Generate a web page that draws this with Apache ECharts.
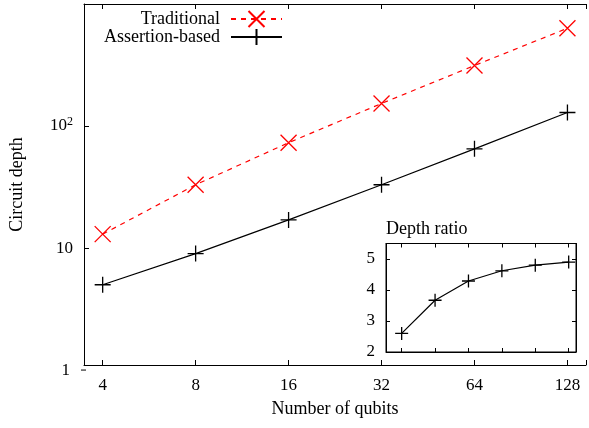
<!DOCTYPE html>
<html>
<head>
<meta charset="utf-8">
<title>Circuit depth</title>
<script src="https://cdn.jsdelivr.net/npm/echarts@6/dist/echarts.min.js"></script>
<style>
  html, body { margin: 0; padding: 0; background: #fff; }
  #chart { width: 589px; height: 428px; }
</style>
</head>
<body>
<div id="chart"></div>
<script>
  var qubits = [4, 8, 16, 32, 64, 128];
  var traditional = [13, 33, 73, 153, 313, 633];
  var assertion = [5, 9, 17, 33, 65, 129];
  var depthRatio = [2.6, 3.67, 4.29, 4.62, 4.8, 4.9];
  var yTickLabels = { 10: '10', 100: '10{sup|2}' };
  var insetTickLabels = [2, 3, 4, 5];

  var FONT = 'Liberation Serif';
  var CROSS = 'path://M0,0L10,10M10,0L0,10';
  var PLUS = 'path://M5,0L5,10M0,5L10,5';

  function pairs(xs, ys) {
    return xs.map(function (x, i) { return [x, ys[i]]; });
  }
  function near(v, list) {
    for (var i = 0; i < list.length; i++) {
      if (Math.abs(v - list[i]) < 1e-6) return list[i];
    }
    return null;
  }
  function tickIn(len) {
    return { show: true, inside: true, length: len, lineStyle: { color: '#000', width: 1 } };
  }
  var blackLine = { show: true, lineStyle: { color: '#000', width: 1 } };
  var labelStyle = { fontFamily: FONT, fontSize: 17, color: '#000' };
  var nameStyle = { fontFamily: FONT, fontSize: 18, color: '#000' };

  var chart = echarts.init(document.getElementById('chart'));

  chart.setOption({
    animation: false,
    textStyle: { fontFamily: FONT, color: '#000' },
    title: {
      text: 'Depth ratio',
      left: 386, top: 220, padding: 0,
      textStyle: { fontFamily: FONT, fontSize: 18, fontWeight: 'normal', color: '#000' }
    },
    legend: {
      data: ['Traditional', 'Assertion-based'],
      orient: 'vertical',
      align: 'right',
      right: 306, top: 10,
      padding: 0,
      itemWidth: 51, itemHeight: 20, itemGap: 0,
      selectedMode: false,
      textStyle: { fontFamily: FONT, fontSize: 18, color: '#000', padding: [0, 6, 0, 0] }
    },
    grid: [
      { left: 81, top: 4, right: -4, bottom: 63 },
      { left: 386, top: 243.5, right: 13, bottom: 76, show: true,
        backgroundColor: '#fff', borderColor: '#000', borderWidth: 1 }
    ],
    xAxis: [
      {
        gridIndex: 0, type: 'log', logBase: 2, min: 3.48, max: 147,
        axisLine: blackLine, axisTick: tickIn(5), splitLine: { show: false },
        axisLabel: Object.assign({
          margin: 12,
          formatter: function (v) { var q = near(v, qubits); return q === null ? '' : String(q); }
        }, labelStyle),
        name: 'Number of qubits', nameLocation: 'middle', nameGap: 35,
        nameTextStyle: nameStyle
      },
      {
        gridIndex: 0, type: 'log', logBase: 2, min: 3.48, max: 147, position: 'top',
        axisLine: blackLine, axisTick: tickIn(5), splitLine: { show: false },
        axisLabel: { show: false }
      },
      {
        gridIndex: 1, type: 'log', logBase: 2, min: 2.89, max: 149,
        axisLine: blackLine, axisTick: tickIn(4), splitLine: { show: false },
        axisLabel: { show: false }
      },
      {
        gridIndex: 1, type: 'log', logBase: 2, min: 2.89, max: 149, position: 'top',
        axisLine: blackLine, axisTick: tickIn(4), splitLine: { show: false },
        axisLabel: { show: false }
      }
    ],
    yAxis: [
      {
        gridIndex: 0, type: 'log', logBase: 10, min: 1.1, max: 1000,
        axisLine: blackLine, axisTick: tickIn(5), splitLine: { show: false }, minorTick: { show: false },
        axisLabel: Object.assign({
          margin: 11, lineHeight: 20,
          formatter: function (v) {
            var t = near(v, [10, 100]);
            return t === null ? '' : yTickLabels[t];
          },
          rich: { sup: { fontFamily: FONT, fontSize: 12, lineHeight: 20, verticalAlign: 'top', color: '#000' } }
        }, labelStyle),
        name: 'Circuit depth', nameLocation: 'middle', nameGap: 58, nameRotate: 90,
        nameTextStyle: nameStyle
      },
      {
        gridIndex: 1, type: 'value', min: 2, max: 5.5, interval: 1,
        axisLine: blackLine, axisTick: tickIn(4), splitLine: { show: false },
        axisLabel: Object.assign({
          margin: 11,
          formatter: function (v) { var t = near(v, insetTickLabels); return t === null ? '' : String(t); }
        }, labelStyle)
      },
      {
        gridIndex: 1, type: 'value', min: 2, max: 5.5, interval: 1, position: 'right',
        axisLine: blackLine, axisTick: tickIn(4), splitLine: { show: false },
        axisLabel: { show: false }
      }
    ],
    series: [
      {
        name: 'Traditional', type: 'line', xAxisIndex: 0, yAxisIndex: 0,
        data: pairs(qubits, traditional),
        symbol: CROSS, symbolSize: 16,
        lineStyle: { color: '#ff0000', width: 1.2, type: [5, 5] },
        itemStyle: { color: '#ff0000', borderColor: '#ff0000', borderWidth: 1.3 },
        emphasis: { disabled: true }
      },
      {
        name: 'Assertion-based', type: 'line', xAxisIndex: 0, yAxisIndex: 0,
        data: pairs(qubits, assertion),
        symbol: PLUS, symbolSize: 16,
        lineStyle: { color: '#000', width: 1.2 },
        itemStyle: { color: '#000', borderColor: '#000', borderWidth: 1.3 },
        emphasis: { disabled: true }
      },
      {
        name: 'Depth ratio', type: 'line', xAxisIndex: 2, yAxisIndex: 1,
        data: pairs(qubits, depthRatio),
        symbol: PLUS, symbolSize: 13,
        lineStyle: { color: '#000', width: 1.2 },
        itemStyle: { color: '#000', borderColor: '#000', borderWidth: 1.3 },
        emphasis: { disabled: true }
      }
    ]
  });

  // the "1" tick sits just below the frame, so place it through the axis scale
  var y1 = chart.convertToPixel({ yAxisIndex: 0 }, 1);
  chart.setOption({
    graphic: [
      { type: 'text', x: 70, y: y1,
        style: { text: '1', align: 'right', verticalAlign: 'middle', font: '17px "Liberation Serif"', fill: '#000' } },
      { type: 'line', shape: { x1: 81, y1: y1, x2: 86, y2: y1 }, style: { stroke: '#000', lineWidth: 1 } }
    ]
  });
</script>
</body>
</html>
